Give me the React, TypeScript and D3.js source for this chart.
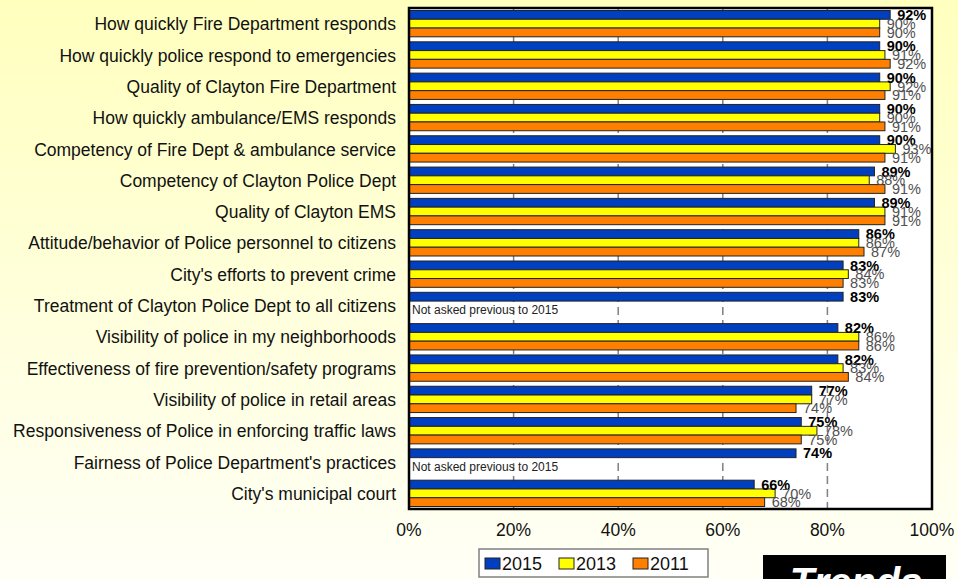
import React from "react";
import * as d3 from "d3";

const categories = [
  "How quickly Fire Department responds",
  "How quickly police respond to emergencies",
  "Quality of Clayton Fire Department",
  "How quickly ambulance/EMS responds",
  "Competency of Fire Dept & ambulance service",
  "Competency of Clayton Police Dept",
  "Quality of Clayton EMS",
  "Attitude/behavior of Police personnel to citizens",
  "City's efforts to prevent crime",
  "Treatment of Clayton Police Dept to all citizens",
  "Visibility of police in my neighborhoods",
  "Effectiveness of fire prevention/safety programs",
  "Visibility of police in retail areas",
  "Responsiveness of Police in enforcing traffic laws",
  "Fairness of Police Department's practices",
  "City's municipal court",
];

const values2015 = [92, 90, 90, 90, 90, 89, 89, 86, 83, 83, 82, 82, 77, 75, 74, 66];
const values2013: (number | null)[] = [90, 91, 92, 90, 93, 88, 91, 86, 84, null, 86, 83, 77, 78, null, 70];
const values2011: (number | null)[] = [90, 92, 91, 91, 91, 91, 91, 87, 83, null, 86, 84, 74, 75, null, 68];

const seriesNames = ["2015", "2013", "2011"];
const seriesColors = ["#0040C0", "#FFFF00", "#FF8000"];
const xTicks = [0, 20, 40, 60, 80, 100];
const notAskedText = "Not asked previous to 2015";

const W = 958;
const H = 579;
const plotLeft = 409;
const plotRight = 932;
const plotTop = 8;
const plotBottom = 509;
const FONT = "'Liberation Sans', Arial, sans-serif";

export default function App() {
  const x = d3.scaleLinear().domain([0, 100]).range([plotLeft, plotRight]);
  const y = d3
    .scaleBand<string>()
    .domain(categories)
    .range([plotTop, plotBottom])
    .paddingInner(0.16)
    .paddingOuter(0.08);
  const sub = d3.scaleBand<string>().domain(seriesNames).range([0, y.bandwidth()]);
  const series = [values2015, values2013, values2011];

  return (
    <svg
      width={W}
      height={H}
      style={{ position: "absolute", left: 0, top: 0, display: "block" }}
      fontFamily={FONT}
    >
      <defs>
        <linearGradient id="bg" x1="0" y1="0" x2="0" y2="1">
          <stop offset="0" stopColor="#FFFFBE" />
          <stop offset="1" stopColor="#FFFFF6" />
        </linearGradient>
      </defs>
      <rect x={0} y={0} width={W} height={H} fill="url(#bg)" />
      <rect
        x={plotLeft}
        y={plotTop}
        width={plotRight - plotLeft}
        height={plotBottom - plotTop}
        fill="#FFFFFF"
      />
      {xTicks
        .filter((t) => t > 0 && t < 100)
        .map((t) => (
          <line
            key={"g" + t}
            x1={x(t)}
            x2={x(t)}
            y1={plotTop}
            y2={plotBottom}
            stroke="#808080"
            strokeWidth={1.5}
            strokeDasharray="8,5"
          />
        ))}
      {categories.map((c, i) => {
        const y0 = y(c)!;
        return (
          <g key={c}>
            {series.map((vals, s) => {
              const v = vals[i];
              if (v == null) return null;
              const by = y0 + sub(seriesNames[s])!;
              return (
                <rect
                  key={s}
                  x={x(0)}
                  y={by}
                  width={x(v) - x(0)}
                  height={sub.bandwidth()}
                  fill={seriesColors[s]}
                  stroke="#222"
                  strokeWidth={1}
                />
              );
            })}
            {values2013[i] == null && (
              <text
                x={plotLeft + 3}
                y={y0 + (y.bandwidth() * 2) / 3}
                dy="0.35em"
                fontSize={12}
                fill="#222"
              >
                {notAskedText}
              </text>
            )}
          </g>
        );
      })}
      {categories.map((c, i) => {
        const y0 = y(c)!;
        return (
          <g key={"l" + c}>
            {series.map((vals, s) => {
              const v = vals[i];
              if (v == null) return null;
              const cy = y0 + sub(seriesNames[s])! + sub.bandwidth() / 2;
              return (
                <text
                  key={s}
                  x={x(v) + 7}
                  y={cy}
                  dy="0.36em"
                  fontSize={14.5}
                  fontWeight={s === 0 ? "bold" : "normal"}
                  fill={s === 0 ? "#000" : "#505050"}
                >
                  {v + "%"}
                </text>
              );
            })}
          </g>
        );
      })}
      <rect
        x={plotLeft}
        y={plotTop}
        width={plotRight - plotLeft}
        height={plotBottom - plotTop}
        fill="none"
        stroke="#000"
        strokeWidth={2.5}
      />
      {categories.map((c) => (
        <text
          key={"c" + c}
          x={396}
          y={y(c)! + y.bandwidth() / 2 + 0.5}
          dy="0.35em"
          textAnchor="end"
          fontSize={17.5}
          fill="#111"
        >
          {c}
        </text>
      ))}
      {xTicks.map((t) => (
        <text
          key={"t" + t}
          x={x(t)}
          y={530}
          dy="0.35em"
          textAnchor="middle"
          fontSize={17.5}
          fill="#111"
        >
          {t + "%"}
        </text>
      ))}
      <g>
        <rect x={479} y={549} width={229} height={28} fill="#FFFFFF" stroke="#808080" strokeWidth={1.5} />
        {seriesNames.map((n, s) => {
          const lx = 485 + s * 74;
          return (
            <g key={"lg" + n}>
              <rect x={lx} y={558} width={15} height={11} fill={seriesColors[s]} stroke="#222" strokeWidth={1} />
              <text x={lx + 17} y={563.5} dy="0.36em" fontSize={18} fill="#111">
                {n}
              </text>
            </g>
          );
        })}
      </g>
      <rect x={763} y={555} width={183} height={40} fill="#000" />
      <text
        x={856}
        y={596}
        textAnchor="middle"
        fontSize={40}
        fontWeight="bold"
        fontStyle="italic"
        fill="#FFFFFF"
      >
        Trends
      </text>
    </svg>
  );
}
